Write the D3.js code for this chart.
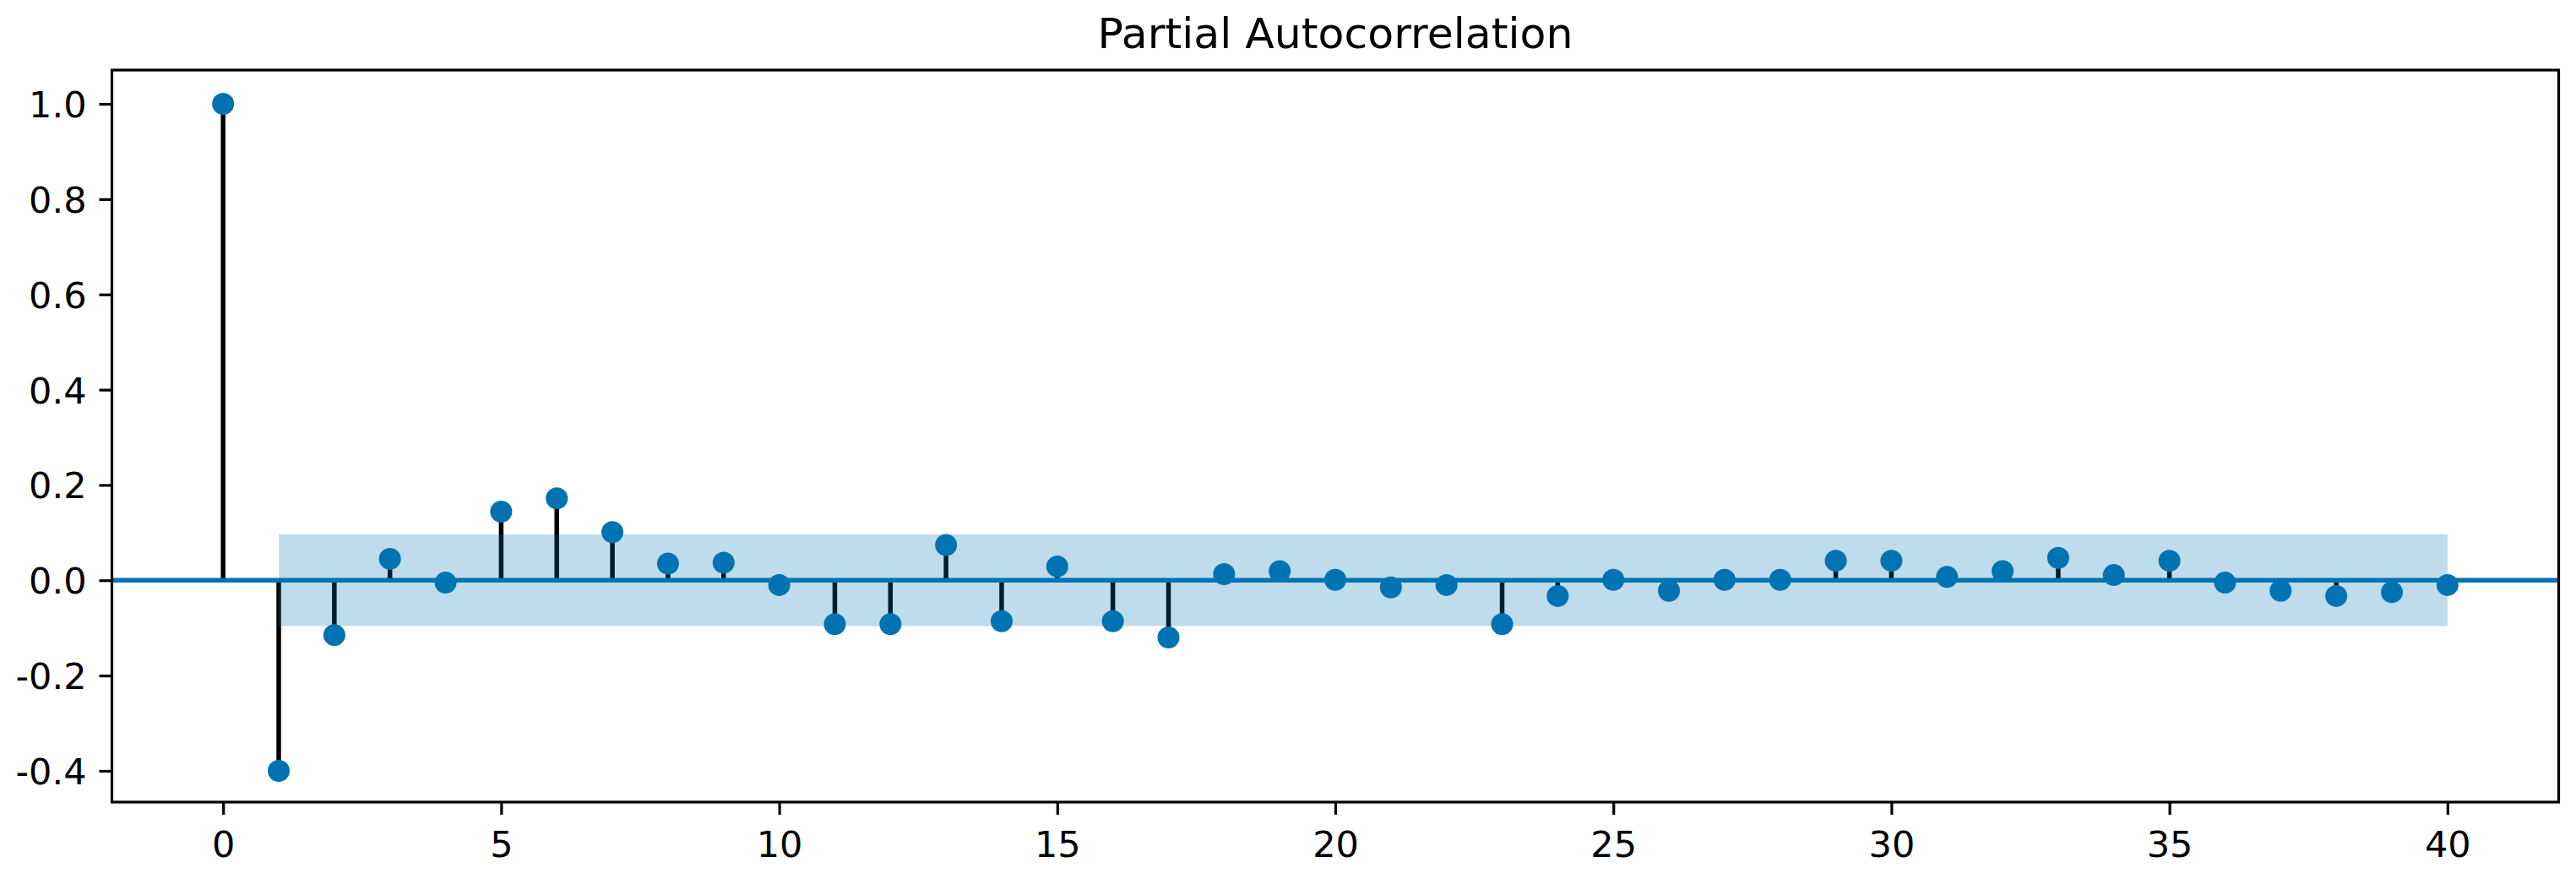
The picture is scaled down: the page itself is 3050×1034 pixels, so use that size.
<!DOCTYPE html>
<html>
<head>
<meta charset="utf-8">
<script src="https://cdn.jsdelivr.net/npm/d3@7"></script>
<style>
  html, body { margin: 0; padding: 0; background: #fff; }
  svg { display: block; }
  text { font-family: "DejaVu Sans", sans-serif; fill: #000; }
</style>
</head>
<body>
<script>
// ---- data ----
const title = "Partial Autocorrelation";
const lags = d3.range(0, 41);
const pacfValues = [
  1.0, -0.40, -0.115, 0.045, -0.005, 0.144, 0.172, 0.101, 0.035, 0.037,
  -0.010, -0.092, -0.092, 0.074, -0.086, 0.029, -0.086, -0.120, 0.013, 0.019,
  0.001, -0.015, -0.010, -0.092, -0.033, 0.001, -0.022, 0.001, 0.001, 0.041,
  0.041, 0.007, 0.019, 0.047, 0.011, 0.041, -0.005, -0.022, -0.033, -0.025,
  -0.010
];
const confBand = 0.096;
const xTicks = [0, 5, 10, 15, 20, 25, 30, 35, 40];
const yTicks = [-0.4, -0.2, 0.0, 0.2, 0.4, 0.6, 0.8, 1.0];

// ---- layout ----
const W = 3050, H = 1034;
const mLeft = 132.5, mRight = 3029.5, mTop = 83, mBottom = 950;
const blue = "#0173b2";

const svg = d3.select("body").append("svg").attr("width", W).attr("height", H);

const x = d3.scaleLinear().domain([-2, 42]).range([mLeft, mRight]);
const y = d3.scaleLinear().domain([-0.4656, 1.0709]).range([mBottom, mTop]);

const plot = svg.append("g");

// stems
plot.selectAll("line.stem").data(lags).join("line")
  .attr("class", "stem")
  .attr("x1", d => x(d)).attr("x2", d => x(d))
  .attr("y1", y(0)).attr("y2", d => y(pacfValues[d]))
  .attr("stroke", "#000").attr("stroke-width", 5.5);

// zero line
plot.append("line")
  .attr("x1", mLeft).attr("x2", mRight)
  .attr("y1", y(0)).attr("y2", y(0))
  .attr("stroke", blue).attr("stroke-width", 5.5);

// markers
plot.selectAll("circle.pt").data(lags).join("circle")
  .attr("class", "pt")
  .attr("cx", d => x(d)).attr("cy", d => y(pacfValues[d]))
  .attr("r", 13).attr("fill", blue);

// confidence band (drawn on top, translucent)
const bandLags = lags.slice(1);
const area = d3.area()
  .x(d => x(d))
  .y0(() => y(-confBand))
  .y1(() => y(confBand));
plot.append("path").datum(bandLags)
  .attr("d", area)
  .attr("fill", blue).attr("fill-opacity", 0.25);

// axes
const xAxis = d3.axisBottom(x).tickValues(xTicks).tickFormat(d3.format("d"))
  .tickSize(15).tickPadding(12).tickSizeOuter(0);
const gx = svg.append("g").attr("transform", `translate(0,${mBottom})`).call(xAxis);
gx.select(".domain").remove();
gx.selectAll(".tick line").attr("stroke", "#000").attr("stroke-width", 3.2);
gx.selectAll(".tick text").attr("font-size", 43).attr("dy", null)
  .attr("y", 65).attr("fill", "#000").style("font-family", "DejaVu Sans");

const yAxis = d3.axisLeft(y).tickValues(yTicks)
  .tickFormat(d => d3.format(".1f")(d).replace("\u2212", "-"))
  .tickSize(15).tickPadding(15).tickSizeOuter(0);
const gy = svg.append("g").attr("transform", `translate(${mLeft},0)`).call(yAxis);
gy.select(".domain").remove();
gy.selectAll(".tick line").attr("stroke", "#000").attr("stroke-width", 3.2);
gy.selectAll(".tick text").attr("font-size", 43).attr("dy", null)
  .attr("y", 15.5).attr("fill", "#000").style("font-family", "DejaVu Sans");

// frame
svg.append("rect")
  .attr("x", mLeft).attr("y", mTop)
  .attr("width", mRight - mLeft).attr("height", mBottom - mTop)
  .attr("fill", "none").attr("stroke", "#000").attr("stroke-width", 3.2);

// title
svg.append("text")
  .attr("x", (mLeft + mRight) / 2).attr("y", 57)
  .attr("text-anchor", "middle").attr("font-size", 50.5)
  .text(title);
</script>
</body>
</html>
